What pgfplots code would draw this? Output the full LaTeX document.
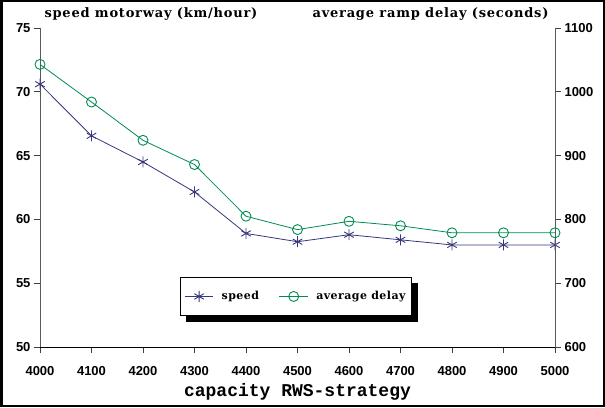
\documentclass[border=0pt]{standalone}
\usepackage{fontspec}
\setmainfont{Liberation Sans}
\newfontfamily\serifb[LetterSpace=6]{DejaVu Serif}
\newfontfamily\legfont[LetterSpace=4]{DejaVu Serif}
\newfontfamily\monob{Liberation Mono}
\usepackage{pgfplots}
\usepackage{pgfplotstable}
\pgfplotsset{compat=1.18}
\pgfdeclarelayer{background}
\pgfsetlayers{background,main}

\definecolor{speedc}{RGB}{55,55,125}
\definecolor{delayc}{RGB}{0,140,80}

\pgfplotstableread{
x     speed
4000  70.6
4100  66.55
4200  64.5
4300  62.15
4400  58.9
4500  58.25
4600  58.8
4700  58.4
4800  58.0
4900  58.0
5000  58.0
}\speedtable

\pgfplotstableread{
x     delay
4000  1043
4100  984
4200  924
4300  886
4400  805
4500  784
4600  797
4700  790
4800  779
4900  779
5000  779
}\delaytable

\begin{document}
\begin{tikzpicture}
\useasboundingbox (0,0) rectangle (605pt,407pt);
\draw[line width=2.5pt] (1.25pt,1.25pt) rectangle (603.75pt,405.75pt);

\pgfplotsset{
  common/.style={
    scale only axis,
    width=515pt, height=319pt,
    at={(40pt,60pt)}, anchor=south west,
    xmin=4000, xmax=5000,
    tick align=outside,
    major tick length=6pt,
    tick style={black!75, line width=0.8pt},
    ticklabel style={font=\bfseries\fontsize{13}{13}\selectfont},
    /pgf/number format/assume math mode=true,
    /pgf/number format/set thousands separator={},
    clip=false,
  },
  legend image code/.code={
    \draw[mark repeat=2, mark phase=2] plot coordinates {(0cm,0cm) (0.5cm,0cm) (1cm,0cm)};
  },
}

\begin{axis}[
  common,
  ymin=50, ymax=75,
  axis x line*=bottom,
  axis y line*=left,
  x axis line style={black, line width=0.8pt},
  y axis line style={black!65, line width=1pt},
  xtick={4000,4100,...,5000},
  ytick={50,55,...,75},
  xticklabel style={yshift=-10pt},
  xlabel={\monob\bfseries\fontsize{18}{18}\selectfont capacity RWS-strategy},
  xlabel style={yshift=-1pt},
]
\addplot[speedc, line width=0.8pt, mark=asterisk, mark size=5.5pt,
  mark options={line width=0.9pt}] table[x=x, y=speed] {\speedtable};
\end{axis}

\begin{axis}[
  common,
  ymin=600, ymax=1100,
  axis x line=none,
  axis y line*=right,
  y axis line style={black!65, line width=1pt},
  ytick={600,700,...,1100},
  legend columns=2,
  legend style={
    name=leg,
    at={(0.272,0.219)}, anchor=north west,
    draw=black, fill=white, line width=0.8pt,
    font=\legfont\bfseries\fontsize{11}{11}\selectfont,
    inner xsep=4pt, inner ysep=12pt,
    /tikz/every odd column/.append style={column sep=6pt},
    /tikz/every even column/.append style={column sep=18pt},
  },
]
\addlegendimage{speedc, line width=0.8pt, mark=asterisk, mark size=5.5pt, mark options={line width=0.9pt}}
\addlegendentry{speed}
\addplot[delayc, line width=0.8pt, mark=o, mark size=5pt,
  mark options={line width=0.9pt}] table[x=x, y=delay] {\delaytable};
\addlegendentry{average delay}
\end{axis}

\begin{pgfonlayer}{background}
\fill[black] ([shift={(6pt,-6pt)}]leg.south west) rectangle ([shift={(6pt,-6pt)}]leg.north east);
\end{pgfonlayer}

\node[anchor=west, font=\serifb\bfseries\fontsize{13}{13}\selectfont] at (41pt,393pt) {speed motorway (km/hour)};
\node[anchor=east, font=\serifb\bfseries\fontsize{13}{13}\selectfont] at (552pt,393pt) {average ramp delay (seconds)};
\end{tikzpicture}
\end{document}
